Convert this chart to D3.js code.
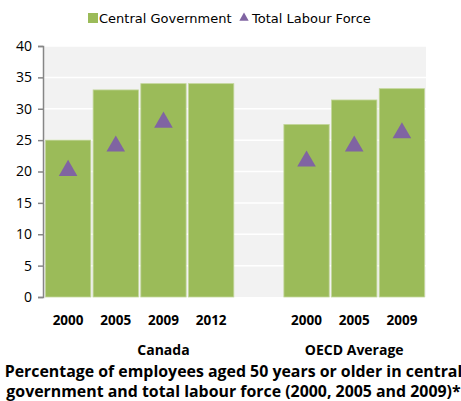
<!DOCTYPE html>
<html>
<head>
<meta charset="utf-8">
<script src="https://cdn.jsdelivr.net/npm/d3@7"></script>
<style>
  body { margin: 0; background: #fff; }
</style>
</head>
<body>
<div id="chart"></div>
<script>
// Data
var years = ["2000", "2005", "2009", "2012", "", "2000", "2005", "2009"];
var centralGov = [25, 33, 34, 34, null, 27.5, 31.4, 33.2];
var labourForce = [20.3, 24.2, 28, null, null, 21.8, 24.2, 26.3];
var groups = ["Canada", "OECD Average"];
var groupSpans = [[0, 4], [5, 7]];
var yTicks = [0, 5, 10, 15, 20, 25, 30, 35, 40];
var seriesNames = ["Central Government", "Total Labour Force"];
var titleLines = ["Percentage of employees aged 50 years or older in central",
                  "government and total labour force (2000, 2005 and 2009)*"];

var width = 461, height = 401;
var margin = {left: 44, right: 35, top: 46, bottom: 104};
var green = "#9bbb59", purple = "#8064a2";

var svg = d3.select("#chart").append("svg")
    .attr("width", width)
    .attr("height", height);

var x = d3.scaleBand()
    .domain(d3.range(years.length))
    .range([margin.left, width - margin.right])
    .paddingInner(0.05)
    .paddingOuter(0.03);

var y = d3.scaleLinear()
    .domain([0, 40])
    .range([height - margin.bottom, margin.top]);

// plot background
svg.append("rect")
    .attr("x", margin.left)
    .attr("y", margin.top)
    .attr("width", width - margin.right - margin.left)
    .attr("height", y(0) - margin.top)
    .style("fill", "#f2f2f2");

// white gridlines
svg.selectAll("line.grid")
    .data(yTicks.slice(1))
    .enter()
    .append("line")
      .attr("class", "grid")
      .attr("x1", margin.left)
      .attr("x2", width - margin.right)
      .attr("y1", function(d) { return y(d); })
      .attr("y2", function(d) { return y(d); })
      .style("stroke", "#fff")
      .style("stroke-width", "1.5px");

// bars
svg.selectAll("rect.bar")
    .data(centralGov.map(function(d, i) { return {v: d, i: i}; }).filter(function(d) { return d.v != null; }))
    .enter()
    .append("rect")
      .attr("class", "bar")
      .attr("x", function(d) { return x(d.i); })
      .attr("y", function(d) { return y(d.v); })
      .attr("width", x.bandwidth())
      .attr("height", function(d) { return y(0) - y(d.v); })
      .style("fill", green)
      .style("stroke", "#c3d69b")
      .style("stroke-width", "0.8px");

// triangles
var tri = d3.symbol().type(d3.symbolTriangle).size(150);
svg.selectAll("path.tri")
    .data(labourForce.map(function(d, i) { return {v: d, i: i}; }).filter(function(d) { return d.v != null; }))
    .enter()
    .append("path")
      .attr("class", "tri")
      .attr("d", tri)
      .attr("transform", function(d) {
        return "translate(" + (x(d.i) + x.bandwidth() / 2) + "," + (y(d.v) + 1) + ")";
      })
      .style("fill", purple);

// y axis
var yAxis = d3.axisLeft(y).tickValues(yTicks).tickSize(5).tickPadding(6);
var gy = svg.append("g")
    .attr("transform", "translate(" + (margin.left - 1) + ",0)")
    .call(yAxis);
gy.selectAll("path, line").style("stroke", "#868686").style("stroke-width", "1.5px");
gy.selectAll("text")
    .style("font-family", "'Open Sans', sans-serif")
    .style("font-size", "14px")
    .style("fill", "#000");

// year labels
svg.selectAll("text.year")
    .data(years)
    .enter()
    .append("text")
      .attr("class", "year")
      .attr("x", function(d, i) { return x(i) + x.bandwidth() / 2; })
      .attr("y", 325)
      .attr("text-anchor", "middle")
      .style("font-family", "'Open Sans', sans-serif")
      .style("font-weight", "bold")
      .style("font-size", "13.5px")
      .text(function(d) { return d; });

// group labels
svg.selectAll("text.group")
    .data(groups)
    .enter()
    .append("text")
      .attr("class", "group")
      .attr("x", function(d, i) {
        var s = groupSpans[i];
        return (x(s[0]) + x(s[1]) + x.bandwidth()) / 2;
      })
      .attr("y", 355)
      .attr("text-anchor", "middle")
      .style("font-family", "'Open Sans', sans-serif")
      .style("font-weight", "bold")
      .style("font-size", "14px")
      .text(function(d) { return d; });

// title
svg.selectAll("text.title")
    .data(titleLines)
    .enter()
    .append("text")
      .attr("class", "title")
      .attr("x", width / 2 + 3)
      .attr("y", function(d, i) { return 377 + i * 20; })
      .attr("text-anchor", "middle")
      .style("font-family", "'Open Sans', sans-serif")
      .style("font-weight", "bold")
      .style("font-size", "15.9px")
      .text(function(d) { return d; });

// legend
var legend = svg.append("g").style("font-family", "'DejaVu Sans', sans-serif").style("font-size", "13px");
legend.append("rect")
    .attr("x", 88).attr("y", 13).attr("width", 10).attr("height", 10)
    .style("fill", green);
legend.append("text").attr("x", 99).attr("y", 23).text(seriesNames[0]);
legend.append("path")
    .attr("d", d3.symbol().type(d3.symbolTriangle).size(38))
    .attr("transform", "translate(244,18)")
    .style("fill", purple);
legend.append("text").attr("x", 252).attr("y", 23).text(seriesNames[1]);
</script>
</body>
</html>
